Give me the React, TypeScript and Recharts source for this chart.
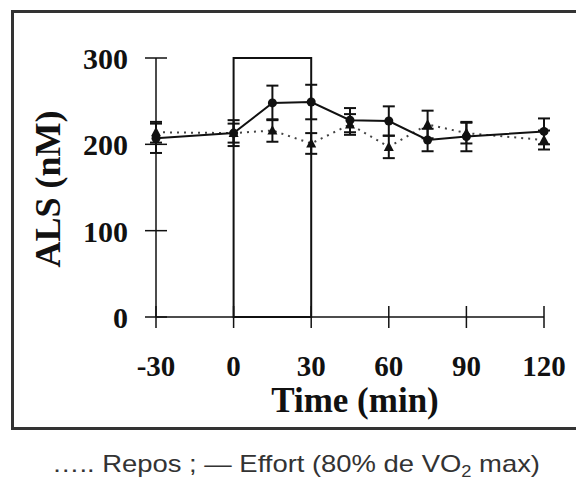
import { ComposedChart, Line, XAxis, YAxis, ErrorBar, ReferenceArea } from 'recharts';

// time points (min) and ALS values (nM)
const times = [-30, 0, 15, 30, 45, 60, 75, 90, 120];
const effort = [207, 213, 248, 249, 228, 227, 205, 209, 215];
const effortErr = [17, 15, 20, 20, 14, 17, 13, 17, 15];
const repos = [214, 213, 216, 201, 223, 197, 223, 213, 205];
const reposErr = [12, 11, 13, 12, 12, 13, 16, 12, 11];

const xTicks = [-30, 0, 30, 60, 90, 120];
const yTicks = [0, 100, 200, 300];
const exerciseWindow = [0, 30];

const data = times.map((t, i) => ({
  t,
  effort: effort[i],
  effortErr: effortErr[i],
  repos: repos[i],
  reposErr: reposErr[i],
}));

const serif = '"Liberation Serif", "Times New Roman", serif';
const sans = '"Liberation Sans", Arial, sans-serif';
const ink = '#111';

const XTick = ({ x, y, payload }: any) => (
  <g>
    <line x1={x} x2={x} y1={y - 11} y2={y + 11} stroke={ink} strokeWidth={1.5} />
    <text x={x} y={y + 59} textAnchor="middle" fontFamily={serif} fontWeight="bold" fontSize={29} fill={ink}>
      {payload.value}
    </text>
  </g>
);

const YTick = ({ x, y, payload }: any) => (
  <g>
    <line x1={x - 11} x2={x + 11} y1={y} y2={y} stroke={ink} strokeWidth={1.5} />
    <text x={x - 28} y={y + 11} textAnchor="end" fontFamily={serif} fontWeight="bold" fontSize={30} fill={ink}>
      {payload.value}
    </text>
  </g>
);

const Triangle = (props: any) => {
  const { cx, cy, index } = props;
  if (cx == null || cy == null) return <g key={`tri-${index}`} />;
  return (
    <polygon
      key={`tri-${index}`}
      points={`${cx},${cy - 5.5} ${cx - 5},${cy + 4} ${cx + 5},${cy + 4}`}
      fill={ink}
    />
  );
};

export default function App() {
  return (
    <div style={{ position: 'absolute', left: 0, top: 0, width: 576, height: 483, overflow: 'hidden', background: '#fff' }}>
      <div
        style={{
          position: 'absolute',
          left: 11,
          top: 10,
          width: 600,
          height: 420,
          boxSizing: 'border-box',
          border: '3px solid #333',
        }}
      />
      <div style={{ position: 'absolute', left: 0, top: 0 }}>
        <ComposedChart width={576} height={483} data={data} margin={{ top: 58, right: 32, bottom: 136, left: 96 }}>
          <XAxis
            dataKey="t"
            type="number"
            domain={[-30, 120]}
            ticks={xTicks}
            interval={0}
            tick={<XTick />}
            tickLine={false}
            tickSize={0}
            tickMargin={0}
            height={30}
            axisLine={{ stroke: ink, strokeWidth: 1.5 }}
          />
          <YAxis
            type="number"
            domain={[0, 300]}
            ticks={yTicks}
            interval={0}
            tick={<YTick />}
            tickLine={false}
            tickSize={0}
            tickMargin={0}
            width={60}
            axisLine={{ stroke: ink, strokeWidth: 1.5 }}
          />
          <ReferenceArea
            x1={exerciseWindow[0]}
            x2={exerciseWindow[1]}
            y1={0}
            y2={300}
            fill="none"
            fillOpacity={0}
            stroke={ink}
            strokeWidth={2}
            strokeOpacity={1}
          />
          <Line
            dataKey="repos"
            type="linear"
            stroke="#444"
            strokeWidth={2}
            strokeDasharray="2 5"
            dot={Triangle}
            activeDot={false}
            isAnimationActive={false}
          >
            <ErrorBar dataKey="reposErr" width={6} stroke={ink} strokeWidth={2} direction="y" />
          </Line>
          <Line
            dataKey="effort"
            type="linear"
            stroke={ink}
            strokeWidth={2}
            dot={{ r: 4.5, fill: ink, stroke: ink, strokeWidth: 0 }}
            activeDot={false}
            isAnimationActive={false}
          >
            <ErrorBar dataKey="effortErr" width={6} stroke={ink} strokeWidth={2} direction="y" />
          </Line>
        </ComposedChart>
      </div>
      <svg width={576} height={483} style={{ position: 'absolute', left: 0, top: 0, pointerEvents: 'none' }}>
        <text
          transform="translate(60,189) rotate(-90)"
          textAnchor="middle"
          fontFamily={serif}
          fontWeight="bold"
          fontSize={36}
          fill={ink}
        >
          ALS (nM)
        </text>
        <text x={355} y={412} textAnchor="middle" fontFamily={serif} fontWeight="bold" fontSize={35} fill={ink}>
          Time (min)
        </text>
        <text x={52} y={472} fontFamily={sans} fontSize={24} fill="#333" textLength={488} lengthAdjust="spacingAndGlyphs">
          ….. Repos ; — Effort (80% de VO<tspan dy={5} fontSize={16}>2</tspan>
          <tspan dy={-5}> max)</tspan>
        </text>
      </svg>
    </div>
  );
}
